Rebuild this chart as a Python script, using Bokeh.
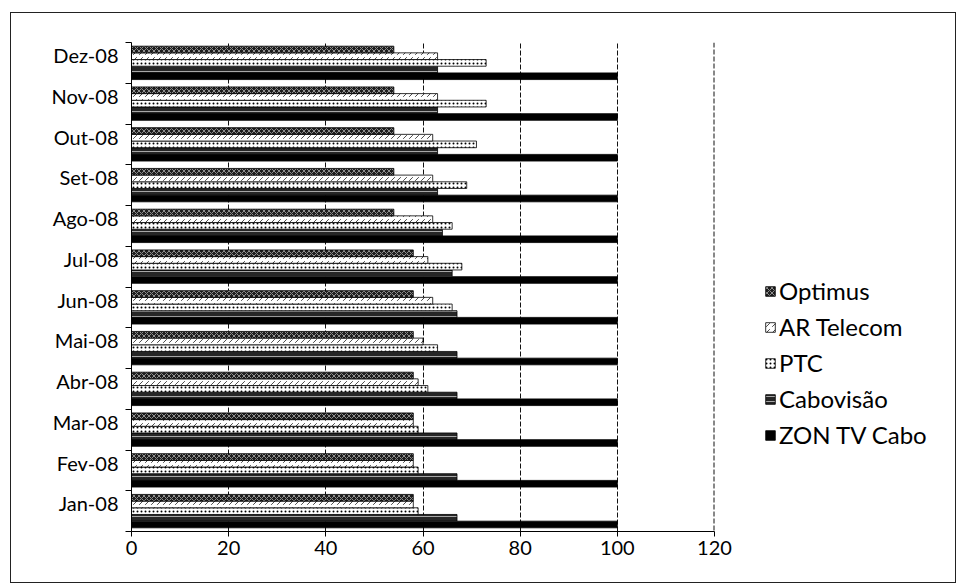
from bokeh.plotting import figure
from bokeh.layouts import row
from bokeh.models import ColumnDataSource, FixedTicker, Legend, LegendItem, Range1d, Span
from bokeh.embed import file_html
from bokeh.resources import INLINE

months = ["Jan-08", "Fev-08", "Mar-08", "Abr-08", "Mai-08", "Jun-08",
          "Jul-08", "Ago-08", "Set-08", "Out-08", "Nov-08", "Dez-08"]
series = ["ZON TV Cabo", "Cabovisão", "PTC", "AR Telecom", "Optimus"]
zon = [100, 100, 100, 100, 100, 100, 100, 100, 100, 100, 100, 100]
cabovisao = [67, 67, 67, 67, 67, 67, 66, 64, 63, 63, 63, 63]
ptc = [59, 59, 59, 61, 63, 66, 68, 66, 69, 71, 73, 73]
ar_telecom = [58, 58, 58, 59, 60, 62, 61, 62, 62, 62, 63, 63]
optimus = [58, 58, 58, 58, 58, 58, 58, 54, 54, 54, 54, 54]
x_ticks = [0, 20, 40, 60, 80, 100, 120]

FONT = "Lato"
values = [zon, cabovisao, ptc, ar_telecom, optimus]

W1 = 733
p = figure(width=W1, height=569, output_backend="svg", toolbar_location=None,
           x_range=Range1d(0, 120), y_range=Range1d(0, len(months)),
           min_border_left=120, min_border_right=30, min_border_top=29,
           min_border_bottom=51)
p.outline_line_color = None
p.background_fill_color = "white"
p.border_fill_color = "white"

bar_h = 1 / 6.1
styles = [
    dict(fill_color="black", line_color="black"),
    dict(fill_color="#262626", line_color="black", hatch_pattern="-", hatch_color="white",
         hatch_scale=5, hatch_weight=0.6),
    dict(fill_color="white", line_color="black", hatch_pattern=".", hatch_color="black",
         hatch_scale=4, hatch_weight=0.8),
    dict(fill_color="white", line_color="black", hatch_pattern=",", hatch_color="black",
         hatch_scale=6, hatch_weight=0.7),
    dict(fill_color="#1e1e1e", line_color="black", hatch_pattern="x", hatch_color="white",
         hatch_scale=5, hatch_weight=0.5),
]
sources = {}
for i, (name, vals) in enumerate(zip(series, values)):
    off = (i - 2) * bar_h
    ys = [k + 0.5 + off for k in range(len(months))]
    src = ColumnDataSource(dict(y=ys, right=vals))
    sources[name] = src
    p.hbar(y="y", left=0, right="right", height=bar_h, source=src,
           line_width=0.8, **styles[i])

# axes
label_shift = 0.19
p.yaxis.ticker = FixedTicker(ticks=[k + 0.5 + label_shift for k in range(len(months))],
                             minor_ticks=list(range(len(months) + 1)))
p.yaxis.major_label_overrides = {k + 0.5 + label_shift: m for k, m in enumerate(months)}
p.yaxis.major_tick_line_color = None
p.yaxis.minor_tick_line_color = "black"
p.yaxis.minor_tick_out = 6
p.yaxis.minor_tick_in = 0
p.yaxis.axis_line_color = "black"
p.yaxis.major_label_text_font = FONT
p.yaxis.major_label_text_font_size = "20px"
p.yaxis.major_label_text_color = "black"
p.yaxis.major_label_standoff = 7

p.xaxis.ticker = FixedTicker(ticks=x_ticks)
p.xaxis.axis_line_color = "black"
p.xaxis.major_tick_line_color = "black"
p.xaxis.major_tick_out = 5
p.xaxis.major_tick_in = 0
p.xaxis.minor_tick_line_color = None
p.xaxis.major_label_text_font = FONT
p.xaxis.major_label_text_font_size = "20px"
p.xaxis.major_label_text_color = "black"
p.xaxis.major_label_standoff = 4

p.ygrid.grid_line_color = None
p.xgrid.grid_line_color = "#111"
p.xgrid.grid_line_dash = "5 2"
p.xgrid.grid_line_width = 1
p.add_layout(Span(location=x_ticks[-1], dimension="height", line_color="#111",
                  line_dash="5 2", line_width=2))

# legend panel
q = figure(width=944 - W1, height=569, output_backend="svg", toolbar_location=None,
           x_range=Range1d(0, 1), y_range=Range1d(0, 1), x_axis_type=None,
           y_axis_type=None, min_border=0)
q.outline_line_color = None
q.xgrid.grid_line_color = None
q.ygrid.grid_line_color = None
q.border_fill_color = "white"
leg_r = {}
for i, name in enumerate(series):
    leg_r[name] = q.hbar(y="y", left=0, right="right", height=bar_h, source=sources[name],
                         line_width=0.8, visible=False, **styles[i])

legend_order = ["Optimus", "AR Telecom", "PTC", "Cabovisão", "ZON TV Cabo"]
legend = Legend(items=[LegendItem(label=n, renderers=[leg_r[n]]) for n in legend_order],
                location=(20, 82))
legend.label_text_font = FONT
legend.label_text_font_size = "24px"
legend.label_text_color = "black"
legend.glyph_width = 12
legend.glyph_height = 12
legend.label_standoff = 3
legend.spacing = 7
legend.padding = 0
legend.margin = 0
legend.border_line_color = None
legend.background_fill_alpha = 0
q.add_layout(legend, "center")

layout = row(p, q)
layout.styles = {"border": "1px solid #222", "margin-left": "10px", "margin-top": "12px"}

open("out.html", "w").write(file_html(layout, INLINE))
